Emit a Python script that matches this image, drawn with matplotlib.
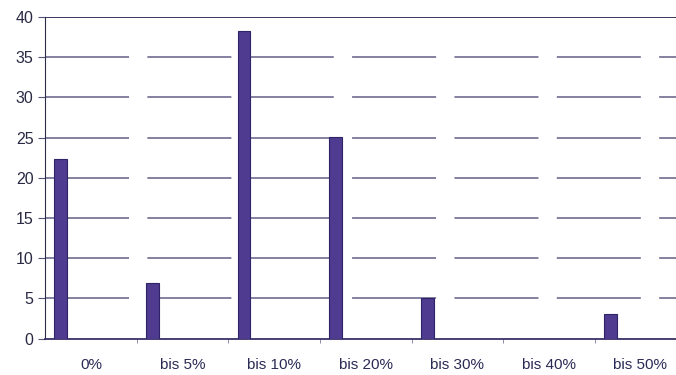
import matplotlib.pyplot as plt
import numpy as np

# categories and values
categories = ["0%", "bis 5%", "bis 10%", "bis 20%", "bis 30%", "bis 40%", "bis 50%"]
values = [22.3, 6.9, 38.2, 25.1, 5.0, 0, 3.1]
y_ticks = [0, 5, 10, 15, 20, 25, 30, 35, 40]

plt.rcParams['font.family'] = ['Liberation Sans', 'DejaVu Sans']

fig = plt.figure(figsize=(6.76, 3.75), dpi=100)
ax = fig.add_axes([0.067, 0.097, 0.94, 0.858])

x = np.arange(len(categories))
ax.bar(x - 0.33, values, width=0.14, color="#4f3c90", edgecolor="#2e2366",
       linewidth=0.8, zorder=3)

# broken grid lines like the scan
for yv in y_ticks[1:-1]:
    ax.axhline(yv, color="#3a3768", linewidth=1.1, linestyle=(0, (55, 12)),
               alpha=0.8, zorder=1)
ax.axhline(40, color="#2a2850", linewidth=1.3, zorder=1)

ax.set_xlim(-0.5, 6.44)
ax.set_ylim(0, 40)
ax.set_yticks(y_ticks)
ax.tick_params(axis="y", labelsize=11.5, length=5, color="#555577", labelcolor="#2a2a44")

ax.set_xticks(x)
ax.set_xticklabels(categories)
ax.tick_params(axis="x", length=0, labelsize=11, labelcolor="#2a2a55", pad=14)
ax.set_xticks(x[:-1] + 0.5, minor=True)
ax.tick_params(axis="x", which="minor", length=3, color="#777799")

for s in ["top", "right"]:
    ax.spines[s].set_visible(False)
ax.spines["left"].set_color("#2c2c48")
ax.spines["bottom"].set_color("#3a3068")
ax.spines["bottom"].set_linewidth(1.3)

fig.savefig("out.png", dpi=100)
